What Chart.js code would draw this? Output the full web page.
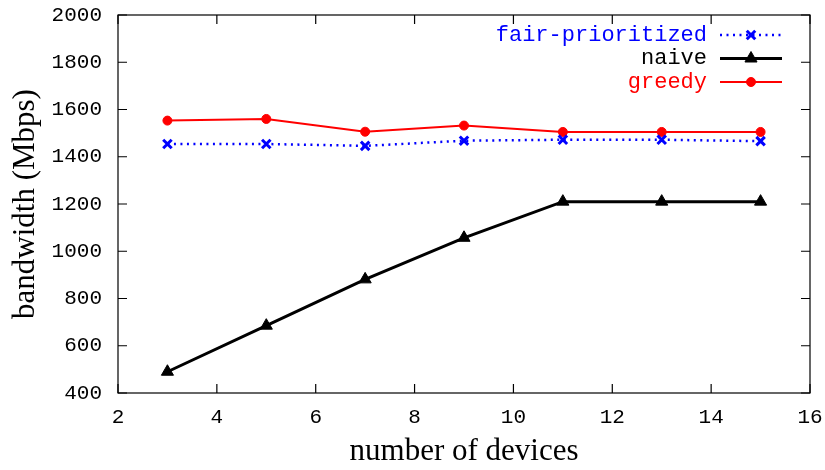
<!DOCTYPE html>
<html>
<head>
<meta charset="utf-8">
<script src="https://cdn.jsdelivr.net/npm/chart.js@4"></script>
<style>
  html, body { margin: 0; padding: 0; background: #fff; }
  #wrap { width: 825px; height: 470px; }
</style>
</head>
<body>
<div id="wrap"><canvas id="grafico" width="825" height="470"></canvas></div>
<script>
// datos
const dispositivos = [3, 5, 7, 9, 11, 13, 15];
const fairPrioritized = [1454, 1454, 1446, 1468, 1472, 1472, 1466];
const naive = [490, 685, 881, 1057, 1210, 1210, 1210];
const greedy = [1553, 1560, 1506, 1532, 1505, 1505, 1505];

const xTicks = [2, 4, 6, 8, 10, 12, 14, 16];
const yTicks = [400, 600, 800, 1000, 1200, 1400, 1600, 1800, 2000];

const monoFont = '"Liberation Mono", "DejaVu Sans Mono", monospace';
const serifFont = '"Liberation Serif", "DejaVu Serif", serif';

function puntos(valores) {
  return dispositivos.map((x, i) => ({ x: x, y: valores[i] }));
}

// borde y marcas hacia dentro, estilo gnuplot
const bordePlugin = {
  id: 'borde',
  afterDatasetsDraw(chart) {
    const ctx = chart.ctx;
    const a = chart.chartArea;
    const sx = chart.scales.x, sy = chart.scales.y;
    const largo = 9;
    ctx.save();
    ctx.strokeStyle = '#000';
    ctx.lineWidth = 1.2;
    ctx.strokeRect(a.left, a.top, a.right - a.left, a.bottom - a.top);
    ctx.beginPath();
    xTicks.forEach(v => {
      const px = sx.getPixelForValue(v);
      ctx.moveTo(px, a.bottom); ctx.lineTo(px, a.bottom - largo);
      ctx.moveTo(px, a.top); ctx.lineTo(px, a.top + largo);
    });
    yTicks.forEach(v => {
      const py = sy.getPixelForValue(v);
      ctx.moveTo(a.left, py); ctx.lineTo(a.left + largo, py);
      ctx.moveTo(a.right, py); ctx.lineTo(a.right - largo, py);
    });
    ctx.stroke();
    ctx.restore();
  }
};

// leyenda arriba a la derecha, texto alineado a la derecha
const leyendaPlugin = {
  id: 'leyendaGnuplot',
  afterDatasetsDraw(chart) {
    const ctx = chart.ctx;
    const a = chart.chartArea;
    const xTexto = a.right - 103;
    const x0 = a.right - 90, x1 = a.right - 28;
    ctx.save();
    ctx.font = '22px ' + monoFont;
    ctx.textAlign = 'right';
    ctx.textBaseline = 'middle';
    chart.data.datasets.forEach((ds, i) => {
      const y = a.top + 20 + i * 23.5;
      ctx.fillStyle = ds.borderColor;
      ctx.fillText(ds.label, xTexto, y);
      ctx.strokeStyle = ds.borderColor;
      ctx.lineWidth = ds.borderWidth;
      ctx.setLineDash(ds.borderDash || []);
      ctx.beginPath();
      ctx.moveTo(x0, y); ctx.lineTo(x1, y);
      ctx.stroke();
      ctx.setLineDash([]);
      ctx.fillStyle = ds.pointBackgroundColor;
      ctx.strokeStyle = ds.pointBorderColor;
      ctx.lineWidth = ds.pointBorderWidth;
      Chart.helpers.drawPoint(ctx, {
        pointStyle: ds.pointStyle,
        radius: ds.pointRadius,
        rotation: 0,
        borderWidth: ds.pointBorderWidth
      }, (x0 + x1) / 2, y);
    });
    ctx.restore();
  }
};

new Chart(document.getElementById('grafico'), {
  type: 'line',
  data: {
    datasets: [
      {
        label: 'fair-prioritized',
        data: puntos(fairPrioritized),
        borderColor: '#0000ff',
        borderWidth: 2.5,
        borderDash: [2, 4.5],
        pointStyle: 'crossRot',
        pointRadius: 6,
        pointBorderWidth: 3,
        pointBorderColor: '#0000ff',
        pointBackgroundColor: '#0000ff'
      },
      {
        label: 'naive',
        data: puntos(naive),
        borderColor: '#000000',
        borderWidth: 3,
        pointStyle: 'triangle',
        pointRadius: 7,
        pointBorderWidth: 1,
        pointBorderColor: '#000000',
        pointBackgroundColor: '#000000'
      },
      {
        label: 'greedy',
        data: puntos(greedy),
        borderColor: '#ff0000',
        borderWidth: 2,
        pointStyle: 'circle',
        pointRadius: 4.5,
        pointBorderWidth: 1,
        pointBorderColor: '#ff0000',
        pointBackgroundColor: '#ff0000'
      }
    ]
  },
  options: {
    responsive: false,
    animation: false,
    layout: { padding: { top: 15, right: 15, left: 0, bottom: 0 } },
    plugins: {
      legend: { display: false },
      tooltip: { enabled: false }
    },
    elements: { line: { tension: 0 } },
    scales: {
      x: {
        type: 'linear',
        min: 2,
        max: 16,
        afterBuildTicks: s => { s.ticks = xTicks.map(v => ({ value: v })); },
        afterFit: s => { s.height = 77; s.paddingLeft = 0; s.paddingRight = 0; },
        grid: { display: false, drawTicks: false },
        border: { display: false },
        ticks: {
          padding: 12,
          color: '#000',
          font: { family: monoFont, size: 21 },
          maxRotation: 0,
          callback: v => String(v)
        },
        title: {
          display: true,
          text: 'number of devices',
          color: '#000',
          font: { family: serifFont, size: 31 },
          padding: { top: 2, bottom: 0 }
        }
      },
      y: {
        min: 400,
        max: 2000,
        afterBuildTicks: s => { s.ticks = yTicks.map(v => ({ value: v })); },
        afterFit: s => { s.width = 118; s.paddingTop = 0; s.paddingBottom = 0; },
        grid: { display: false, drawTicks: false },
        border: { display: false },
        ticks: {
          padding: 16,
          color: '#000',
          font: { family: monoFont, size: 21 },
          callback: v => String(v)
        },
        title: {
          display: true,
          text: 'bandwidth (Mbps)',
          color: '#000',
          font: { family: serifFont, size: 31 },
          padding: { top: 7, bottom: 0 }
        }
      }
    }
  },
  plugins: [bordePlugin, leyendaPlugin]
});
</script>
</body>
</html>
